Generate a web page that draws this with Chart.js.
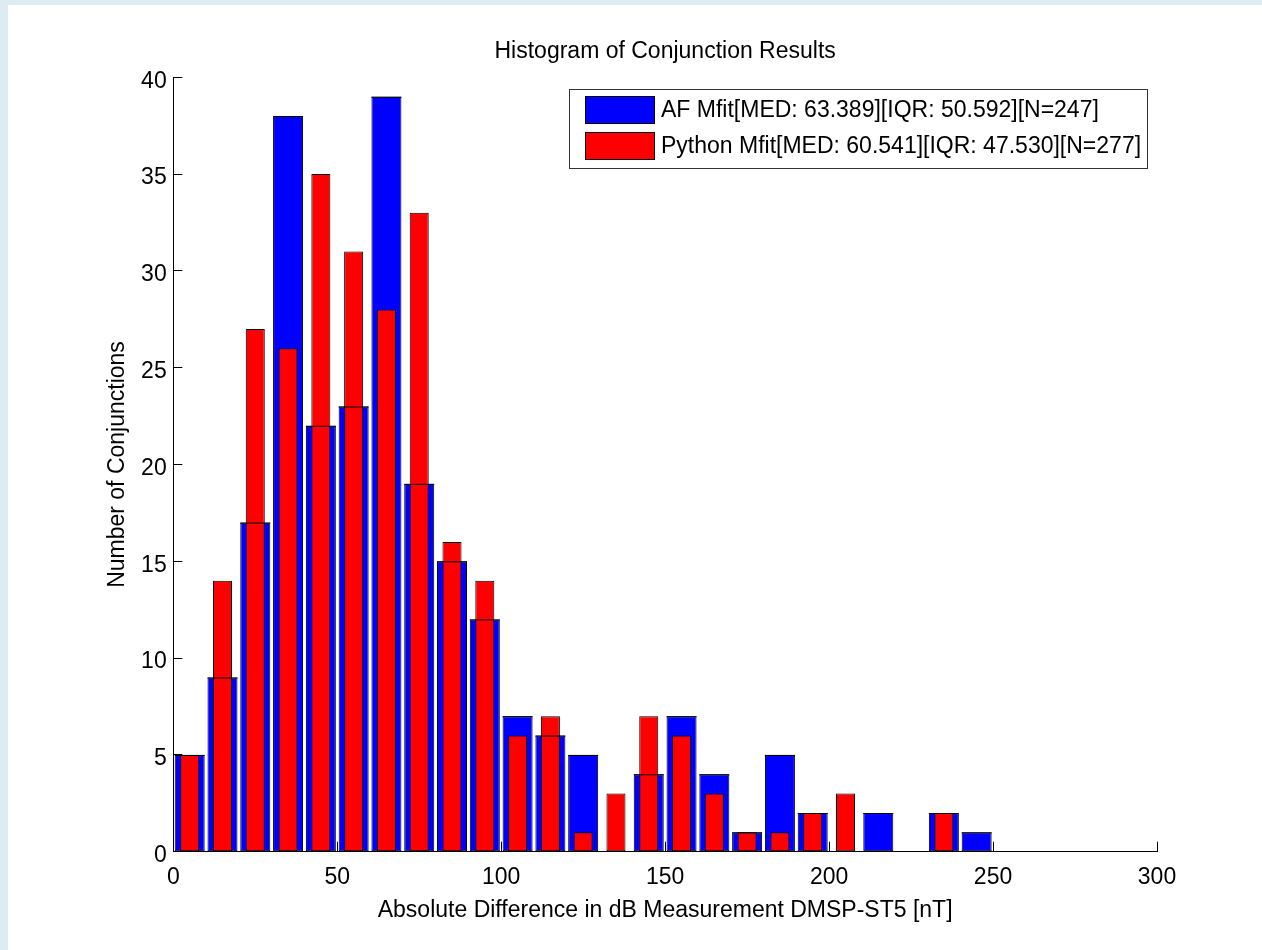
<!DOCTYPE html>
<html>
<head>
<meta charset="utf-8">
<title>Histogram of Conjunction Results</title>
<script src="https://cdn.jsdelivr.net/npm/chart.js@4/dist/chart.umd.min.js"></script>
<style>
  html, body { margin: 0; padding: 0; width: 1262px; height: 950px; overflow: hidden; background: #dcecf2; }
  #frame { position: absolute; left: 8px; top: 5px; width: 1254px; height: 945px; background: #ffffff; }
</style>
</head>
<body>
<div id="frame"><canvas id="hist"></canvas></div>
<script>
// Histogram bins (10 nT wide), identified by their centres
const binCenters = [5, 15, 25, 35, 45, 55, 65, 75, 85, 95, 105, 115, 125, 135, 145, 155, 165, 175, 185, 195, 205, 215, 225, 235, 245];

// Conjunction counts per bin for each fitting method
const afCounts = [5, 9, 17, 38, 22, 23, 39, 19, 15, 12, 7, 6, 5, 0, 4, 7, 4, 1, 5, 2, 0, 2, 0, 2, 1];
const pyCounts = [5, 14, 27, 26, 35, 31, 28, 33, 16, 14, 6, 7, 1, 3, 7, 6, 3, 1, 1, 2, 3, 0, 0, 2, 0];

const seriesLabels = [
  'AF Mfit[MED: 63.389][IQR: 50.592][N=247]',
  'Python Mfit[MED: 60.541][IQR: 47.530][N=277]'
];
const seriesColors = ['#0000ff', '#ff0000'];

const xRange = [0, 300];
const xStep = 50;
const yRange = [0, 40];
const yStep = 5;

const FAMILY = '"Liberation Sans", Arial, Helvetica, sans-serif';
const FONT = { family: FAMILY, size: 23, weight: 'normal' };

// The top edge of every AF bar stays visible where a taller Python bar covers it
const afTopEdges = {
  id: 'afTopEdges',
  afterDatasetsDraw(chart) {
    const meta = chart.getDatasetMeta(0);
    const ctx = chart.ctx;
    ctx.save();
    ctx.fillStyle = '#000';
    meta.data.forEach((bar, i) => {
      if (!afCounts[i]) return;
      const { x, y, width } = bar.getProps(['x', 'y', 'width'], true);
      ctx.fillRect(x - width / 2, y, width, 1);
    });
    ctx.restore();
  }
};

// Boxed legend in the upper right corner of the plot
const boxedLegend = {
  id: 'boxedLegend',
  afterDraw(chart) {
    const { ctx, chartArea } = chart;
    ctx.save();
    ctx.font = FONT.size + 'px ' + FAMILY;
    const items = chart.data.datasets.map(ds => ({ text: ds.label, color: ds.backgroundColor }));
    const textW = Math.max(...items.map(it => ctx.measureText(it.text).width));
    const padL = 16, swW = 70, swH = 28, gap = 6, padR = 6, rowH = 35.7, padT = 7.3, boxH = 79.3;
    const w = padL + swW + gap + textW + padR;
    const right = chartArea.right - 10;
    const top = chartArea.top + 11.4;
    const left = right - w;
    ctx.fillStyle = '#fff';
    ctx.fillRect(left, top, w, boxH);
    ctx.strokeStyle = '#333';
    ctx.lineWidth = 1;
    ctx.strokeRect(Math.round(left) + 0.5, Math.round(top) + 0.5, Math.round(w), Math.round(boxH));
    items.forEach((it, i) => {
      const sy = Math.round(top + padT + i * rowH);
      const sx = Math.round(left + padL);
      ctx.fillStyle = it.color;
      ctx.fillRect(sx, sy, swW, swH);
      ctx.strokeStyle = '#000';
      ctx.strokeRect(sx + 0.5, sy + 0.5, swW - 1, swH - 1);
      ctx.fillStyle = '#000';
      ctx.textBaseline = 'middle';
      ctx.textAlign = 'left';
      ctx.fillText(it.text, sx + swW + gap, sy + swH / 2 + 1);
    });
    ctx.restore();
  }
};

const afData = binCenters.map((c, i) => ({ x: c, y: afCounts[i] }));
const pyData = binCenters.map((c, i) => ({ x: c, y: pyCounts[i] }));

new Chart(document.getElementById('hist'), {
  type: 'bar',
  data: {
    datasets: [
      {
        label: seriesLabels[0],
        data: afData,
        backgroundColor: seriesColors[0],
        borderColor: '#000',
        borderWidth: 1,
        borderSkipped: false,
        grouped: false,
        categoryPercentage: 1,
        barPercentage: 0.915,
        order: 1
      },
      {
        label: seriesLabels[1],
        data: pyData,
        backgroundColor: seriesColors[1],
        borderColor: '#000',
        borderWidth: 1,
        borderSkipped: false,
        grouped: false,
        categoryPercentage: 1,
        barPercentage: 0.58,
        order: 0
      }
    ]
  },
  options: {
    responsive: true,
    maintainAspectRatio: false,
    animation: false,
    events: [],
    layout: { padding: { left: 0, right: 105, top: 0, bottom: 0 } },
    plugins: {
      legend: { display: false },
      tooltip: { enabled: false },
      title: {
        display: true,
        fullSize: false,
        text: 'Histogram of Conjunction Results',
        color: '#000',
        font: FONT,
        padding: { top: 33.2, bottom: 11.5 }
      }
    },
    scales: {
      x: {
        type: 'linear',
        min: xRange[0],
        max: xRange[1],
        offset: false,
        ticks: { stepSize: xStep, color: '#000', font: FONT, padding: 22, maxRotation: 0, autoSkip: false },
        grid: { display: true, drawOnChartArea: false, drawTicks: true, tickLength: -10, color: '#000', offset: false },
        border: { display: true, color: '#000', width: 1 },
        title: {
          display: true,
          text: 'Absolute Difference in dB Measurement DMSP-ST5 [nT]',
          color: '#000',
          font: FONT,
          padding: { top: 0, bottom: 25.2 }
        },
        afterFit(scale) { scale.height = 98.3; }
      },
      y: {
        type: 'linear',
        min: yRange[0],
        max: yRange[1],
        ticks: { stepSize: yStep, color: '#000', font: FONT, padding: 15.6, labelOffset: 4 },
        grid: { display: true, drawOnChartArea: false, drawTicks: true, tickLength: -9, color: '#000' },
        border: { display: true, color: '#000', width: 1 },
        title: {
          display: true,
          text: 'Number of Conjunctions',
          color: '#000',
          font: FONT,
          padding: { top: 96.2, bottom: 0 }
        },
        afterFit(scale) { scale.width = 165.3; }
      }
    }
  },
  plugins: [afTopEdges, boxedLegend]
});
</script>
</body>
</html>
